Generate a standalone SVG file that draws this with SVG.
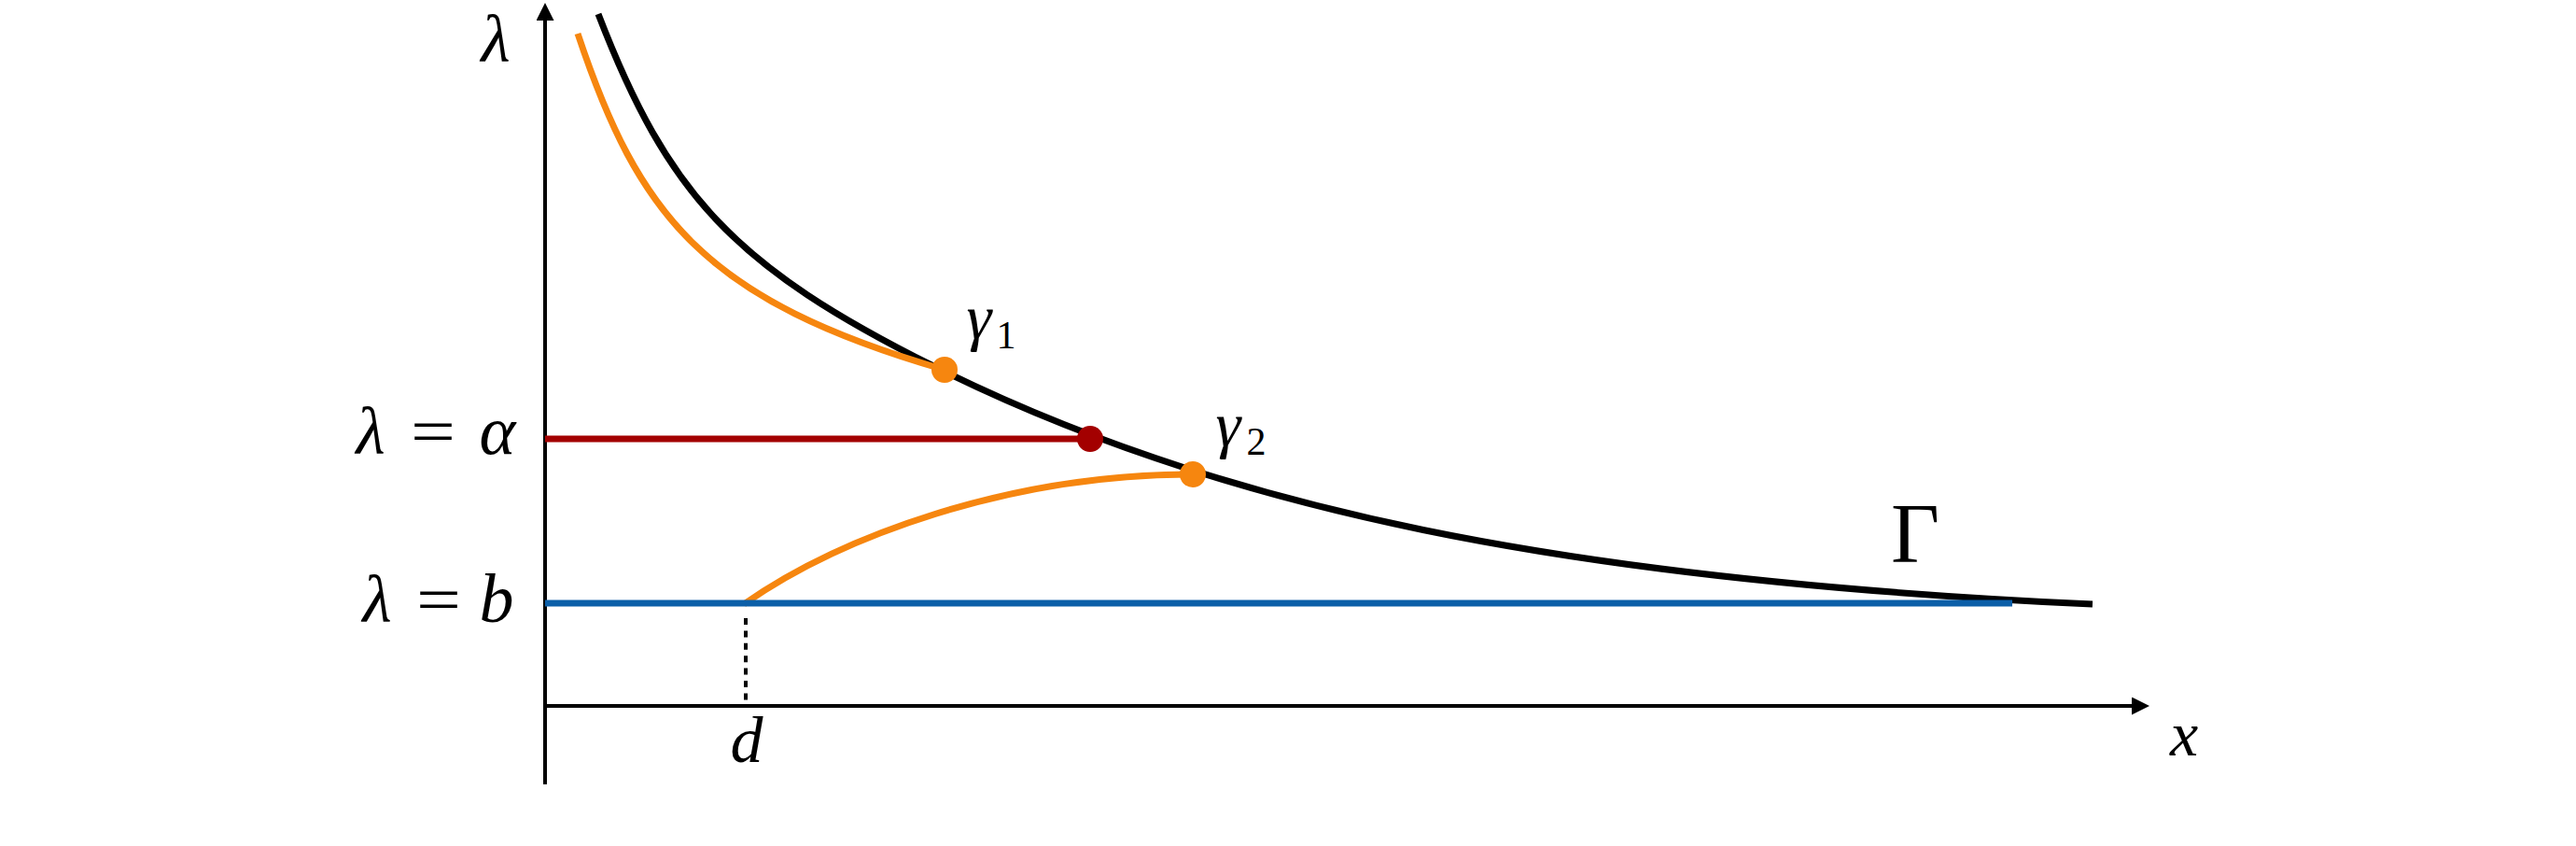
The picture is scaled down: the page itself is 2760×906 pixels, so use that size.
<svg xmlns="http://www.w3.org/2000/svg" width="2760" height="906" viewBox="0 0 2760 906">
<style>
.ax{stroke:#000;stroke-width:4;fill:none}
.crv{fill:none;stroke-width:7;stroke-linecap:butt}
.m{font-family:"Liberation Serif","DejaVu Serif",serif;font-style:italic;fill:#000;text-anchor:middle}
.u{font-family:"Liberation Serif","DejaVu Serif",serif;fill:#000;text-anchor:middle}
</style>
<defs>
<marker id="arr" markerUnits="userSpaceOnUse" markerWidth="20" markerHeight="20" refX="0" refY="9.5" orient="auto">
<path d="M0,0 L19,9.5 L0,19 z" fill="#000"/>
</marker>
</defs>
<rect width="2760" height="906" fill="#fff"/>
<g id="axes">
<line class="ax" x1="584" y1="840" x2="584" y2="22" marker-end="url(#arr)"/>
<line class="ax" x1="582" y1="756" x2="2284" y2="756" marker-end="url(#arr)"/>
<line x1="799" y1="662" x2="799" y2="750" stroke="#000" stroke-width="4" stroke-dasharray="7 6.4"/>
</g>
<g id="connectors">
<path id="Gamma-curve" class="crv" stroke="#000" d="M641,15 C716.2,210.5 788,285.9 1000,392 C1306.3,545.2 1679.1,621.7 2242,647"/>
<path id="gamma1-curve" class="crv" stroke="#F6860F" d="M619,36 C684.4,232.1 755.1,321.5 1012,396"/>
<path id="gamma2-curve" class="crv" stroke="#F6860F" d="M797,647 C900,575 1080,508 1278,508"/>
<line id="alpha-line" class="crv" stroke="#A30000" x1="584" y1="470" x2="1168" y2="470"/>
<line id="b-line" class="crv" stroke="#0C5FA8" x1="584" y1="646" x2="2156" y2="646"/>
</g>
<g id="dot-gamma1"><circle cx="1012" cy="396" r="14" fill="#F6860F"/></g>
<g id="dot-alpha"><circle cx="1168" cy="470" r="14" fill="#A30000"/></g>
<g id="dot-gamma2"><circle cx="1278" cy="508" r="14" fill="#F6860F"/></g>
<g id="labels">
<text class="m" x="531" y="66" font-size="72">λ</text>
<text class="m" x="397" y="486" font-size="72">λ</text>
<text class="u" x="464" y="486" font-size="70" textLength="48" lengthAdjust="spacingAndGlyphs">=</text>
<text class="m" x="533" y="486" font-size="74">α</text>
<text class="m" x="404" y="666" font-size="72">λ</text>
<text class="u" x="470" y="666" font-size="70" textLength="48" lengthAdjust="spacingAndGlyphs">=</text>
<text class="m" x="532" y="666" font-size="74">b</text>
<text class="m" x="1049" y="363" font-size="68">γ</text>
<text class="u" x="1078" y="373" font-size="42">1</text>
<text class="m" x="1316" y="478" font-size="68">γ</text>
<text class="u" x="1346" y="487" font-size="42">2</text>
<text class="u" x="2052" y="602" font-size="90">Γ</text>
<text class="m" x="2340" y="809" font-size="68">x</text>
<text class="m" x="800" y="816" font-size="70">d</text>
</g>
</svg>
